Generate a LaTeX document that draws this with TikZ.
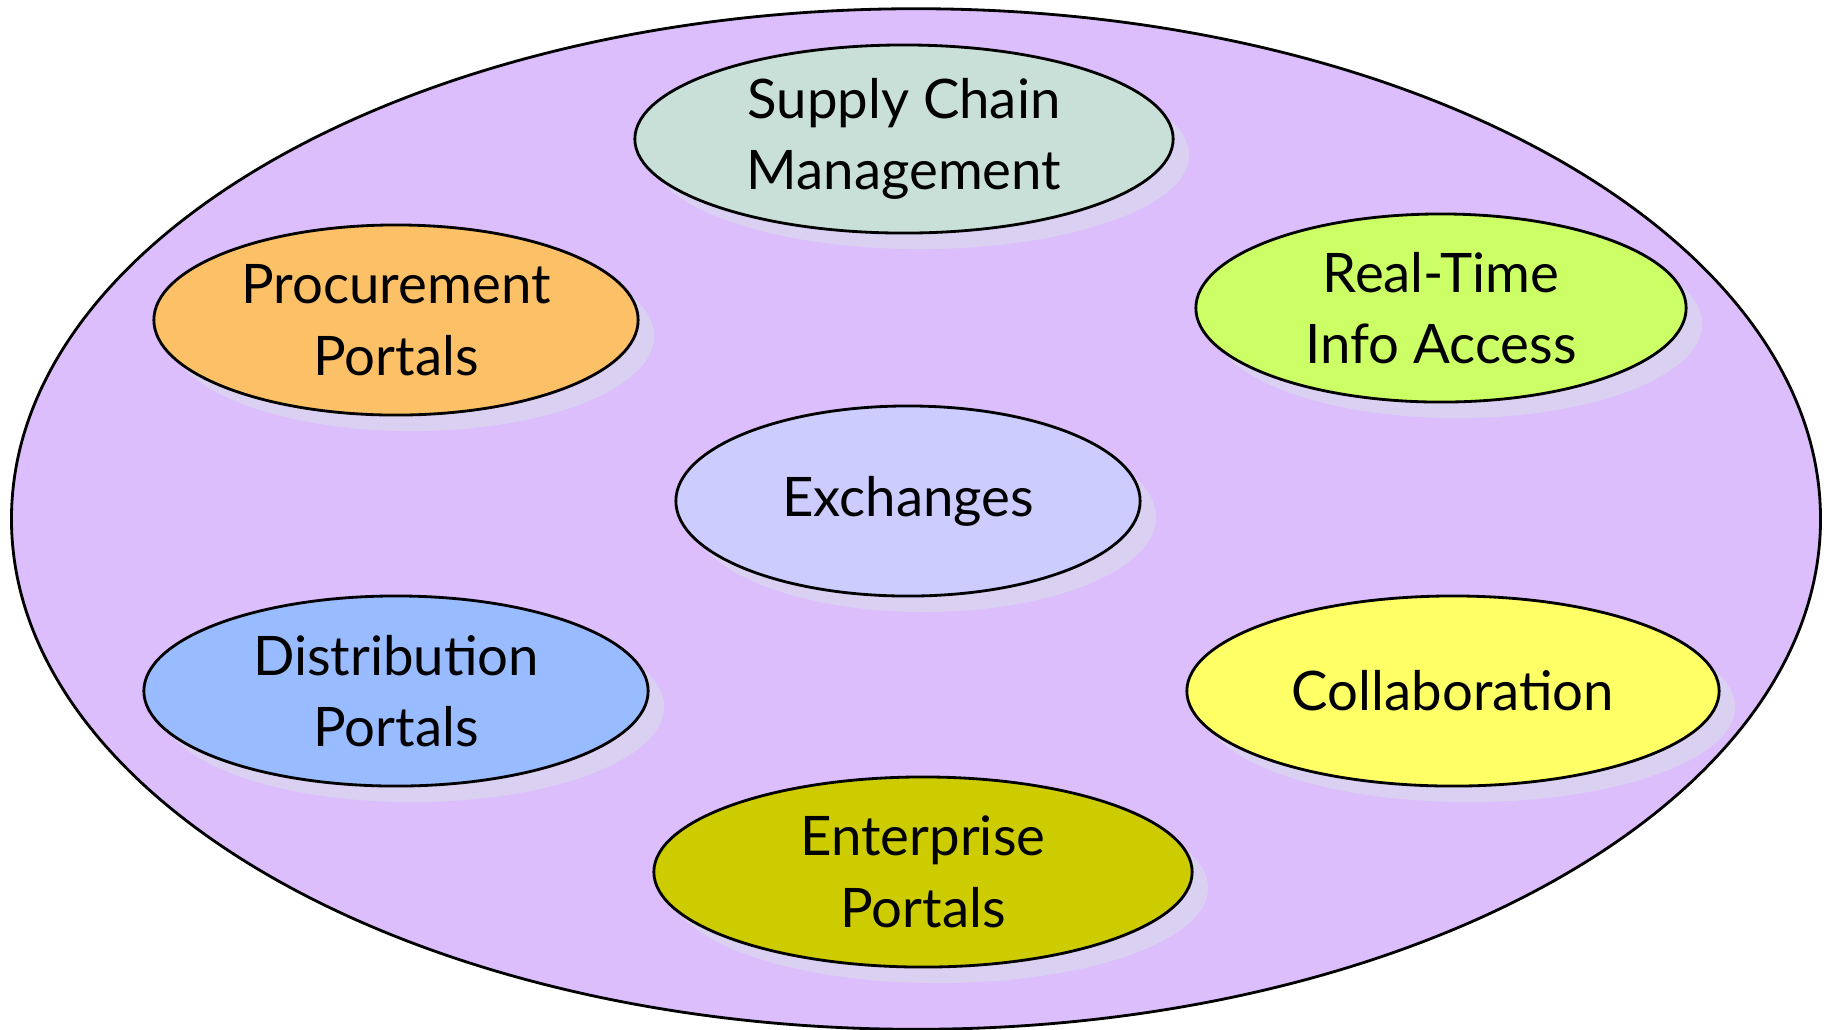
\documentclass[tikz,border=0pt]{standalone}
\usepackage{fontspec}
\setmainfont{Lato}
\usetikzlibrary{shapes.geometric,shadows}
\definecolor{outerfill}{RGB}{220,190,252}
\definecolor{shadelav}{RGB}{218,208,242}
\definecolor{scmfill}{RGB}{200,224,216}
\definecolor{procfill}{RGB}{252,192,102}
\definecolor{rtfill}{RGB}{204,255,102}
\definecolor{exchfill}{RGB}{204,204,255}
\definecolor{distfill}{RGB}{153,187,255}
\definecolor{collfill}{RGB}{255,255,102}
\definecolor{entfill}{RGB}{204,204,0}
\tikzset{
  blob/.style={ellipse,draw=black,line width=0.8pt,inner sep=0pt,align=center,
    minimum height=1.9cm,
    font=\fontsize{15.5}{20.4}\selectfont,
    general shadow={fill=shadelav,shadow xshift=0.16cm,shadow yshift=-0.16cm}}
}
\begin{document}
\begin{tikzpicture}[x=0.01cm,y=-0.01cm]
    \useasboundingbox (0,0) rectangle (1827,1029);
    % Outer
    \node[ellipse,draw=black,line width=0.8pt,fill=outerfill,inner sep=0pt,
      minimum width=18.08cm,minimum height=10.2cm] (market) at (916,519) {};
    % Inner ellipses
    \node[blob,fill=scmfill,minimum width=5.38cm,minimum height=1.88cm] (supply) at (904,139) {Supply Chain\\Management};
    \node[blob,fill=procfill,minimum width=4.84cm] (procure) at (396,320) {Procurement\\Portals};
    \node[blob,fill=rtfill,minimum width=4.9cm,minimum height=1.88cm] (realtime) at (1441,308) {Real-Time\\Info Access};
    \node[blob,fill=exchfill,minimum width=4.64cm] (exch) at (908,501) {Exchanges};
    \node[blob,fill=distfill,minimum width=5.04cm] (distrib) at (396,691) {Distribution\\Portals};
    \node[blob,fill=collfill,minimum width=5.32cm] (collab) at (1453,691) {Collaboration};
    \node[blob,fill=entfill,minimum width=5.38cm] (enterprise) at (923,872) {Enterprise\\Portals};
\end{tikzpicture}
\end{document}
